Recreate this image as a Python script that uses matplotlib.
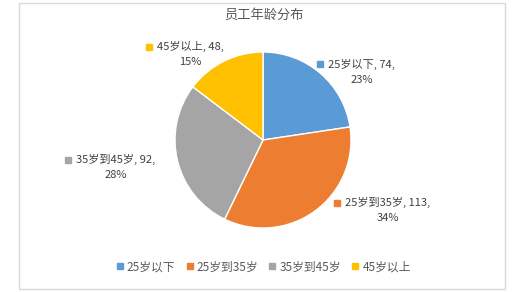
import matplotlib.pyplot as plt
from matplotlib.patches import Rectangle

plt.rcParams['font.family'] = ['Noto Sans CJK SC', 'DejaVu Sans']

categories = ["25岁以下", "25岁到35岁", "35岁到45岁", "45岁以上"]
counts = [74, 113, 92, 48]
pct_labels = ["23%", "34%", "28%", "15%"]
colors = ["#5B9BD5", "#ED7D31", "#A5A5A5", "#FFC000"]

# label centres in pie units (radius = 1), hand placed like Excel's best fit
label_pos = [(1.12, 0.77), (1.42, -0.80), (-1.67, -0.31), (-0.83, 0.97)]

W, H = 527, 292
fig = plt.figure(figsize=(W / 100, H / 100), dpi=100)

# chart area border
fig.patches.append(Rectangle((19 / W, 3 / H), 486 / W, 286 / H, transform=fig.transFigure,
                             fill=False, edgecolor="#D9D9D9", linewidth=1))

cx, cy, r = 263, 140, 88
ax = fig.add_axes([(cx - r) / W, (H - cy - r) / H, 2 * r / W, 2 * r / H])
wedges, _ = ax.pie(counts, colors=colors, startangle=90, counterclock=False,
                   wedgeprops=dict(edgecolor="white", linewidth=1))
ax.set_xlim(-1, 1)
ax.set_ylim(-1, 1)
ax.set_aspect("equal")

fig.text(0.5, 1 - 15 / H, "员工年龄分布", ha="center", va="center", fontsize=9.5, color="#595959")

txt_color = "#404040"
line1 = []
for i in range(len(counts)):
    x, y = label_pos[i]
    t = ax.text(x, y + 0.088, f"{categories[i]}, {counts[i]},", ha="center", va="center",
                fontsize=8, color=txt_color, clip_on=False)
    ax.text(x, y - 0.088, pct_labels[i], ha="center", va="center",
            fontsize=8, color=txt_color, clip_on=False)
    line1.append(t)

fig.canvas.draw()
renderer = fig.canvas.get_renderer()
inv = ax.transData.inverted()
for i, t in enumerate(line1):
    bb = t.get_window_extent(renderer)
    mx, my = inv.transform((bb.x0 - 8, (bb.y0 + bb.y1) / 2))
    ax.plot(mx, my, marker="s", markersize=4, color=colors[i], clip_on=False)

handles = [plt.Line2D([], [], marker="s", linestyle="", markersize=5, color=c) for c in colors]
fig.legend(handles, categories, loc="center", bbox_to_anchor=(0.5, 1 - 267 / H), ncol=4,
           frameon=False, fontsize=8.5, handlelength=0.6, handletextpad=0.3,
           columnspacing=0.9, labelcolor="#595959")

fig.savefig("out.png", dpi=100)
